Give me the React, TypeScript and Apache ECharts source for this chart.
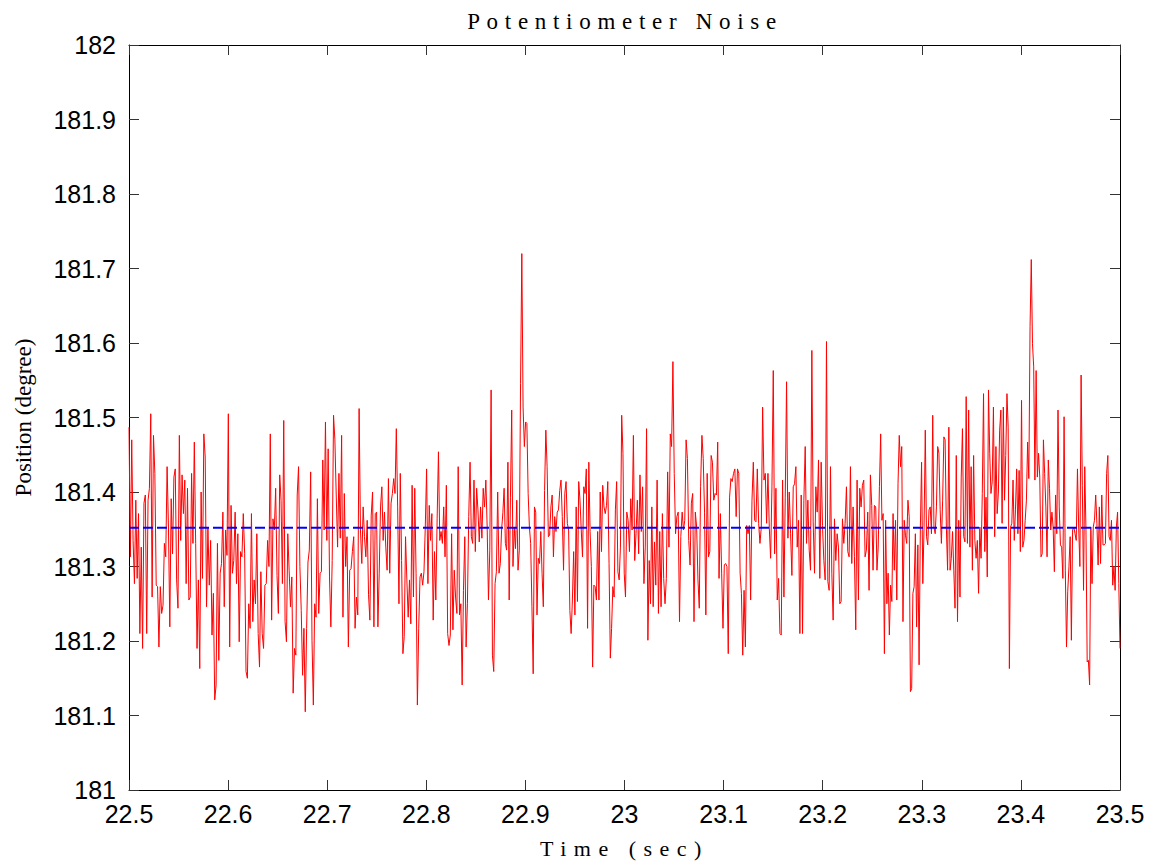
import React, { useEffect, useRef } from "react";
import * as echarts from "echarts";

// Time window boundaries (sec) of the eight consecutive data stretches
const segmentBounds = [22.5, 22.6222, 22.7485, 22.8747, 23.001, 23.1273, 23.2535, 23.3798, 23.5];

// Potentiometer position readings (degree), one stretch per time window
const seg1 = [181.487, 181.313, 181.470, 181.335, 181.277, 181.389, 181.284, 181.371, 181.210, 181.326, 181.190, 181.385, 181.396, 181.210, 181.389, 181.405, 181.505, 181.259, 181.476, 181.425, 181.275, 181.273, 181.192, 181.273, 181.237, 181.248, 181.331, 181.313, 181.434, 181.353, 181.219, 181.391, 181.317, 181.420, 181.431, 181.282, 181.244, 181.476, 181.335, 181.423, 181.371, 181.416, 181.277, 181.405, 181.255, 181.259, 181.425, 181.331, 181.467, 181.331, 181.190, 181.282, 181.163, 181.400, 181.284, 181.478, 181.447, 181.246, 181.353, 181.275, 181.335, 181.208, 181.264, 181.121, 181.141, 181.331, 181.174, 181.291, 181.304, 181.373, 181.246, 181.349, 181.315, 181.505, 181.192, 181.382, 181.291, 181.308, 181.373, 181.277, 181.344, 181.199, 181.320, 181.313, 181.371, 181.317, 181.159, 181.150, 181.250];
const seg2 = [181.217, 181.371, 181.226, 181.282, 181.250, 181.344, 181.210, 181.165, 181.293, 181.210, 181.190, 181.275, 181.277, 181.335, 181.300, 181.478, 181.228, 181.364, 181.349, 181.405, 181.288, 181.237, 181.423, 181.389, 181.277, 181.496, 181.226, 181.199, 181.344, 181.295, 181.246, 181.286, 181.130, 181.190, 181.181, 181.396, 181.434, 181.300, 181.241, 181.154, 181.217, 181.105, 181.217, 181.306, 181.322, 181.427, 181.201, 181.114, 181.250, 181.232, 181.391, 181.237, 181.291, 181.293, 181.443, 181.349, 181.494, 181.335, 181.458, 181.286, 181.219, 181.308, 181.503, 181.470, 181.396, 181.326, 181.425, 181.338, 181.476, 181.232, 181.398, 181.300, 181.340, 181.192, 181.295, 181.297, 181.320, 181.340, 181.217, 181.259, 181.235, 181.512, 181.349, 181.304, 181.380, 181.340, 181.313, 181.362, 181.262, 181.228, 181.369, 181.400, 181.219];
const seg3 = [181.371, 181.373, 181.219, 181.291, 181.380, 181.407, 181.335, 181.373, 181.326, 181.295, 181.418, 181.291, 181.385, 181.398, 181.418, 181.398, 181.485, 181.380, 181.250, 181.425, 181.308, 181.183, 181.206, 181.340, 181.282, 181.232, 181.282, 181.223, 181.409, 181.259, 181.405, 181.291, 181.114, 181.217, 181.286, 181.291, 181.275, 181.293, 181.353, 181.431, 181.277, 181.382, 181.335, 181.371, 181.228, 181.320, 181.255, 181.364, 181.454, 181.335, 181.347, 181.331, 181.380, 181.313, 181.409, 181.210, 181.194, 181.208, 181.344, 181.215, 181.295, 181.259, 181.237, 181.434, 181.235, 181.250, 181.141, 181.268, 181.340, 181.192, 181.250, 181.367, 181.440, 181.340, 181.331, 181.416, 181.320, 181.405, 181.376, 181.333, 181.380, 181.338, 181.405, 181.380, 181.416, 181.353, 181.255, 181.322, 181.537, 181.181, 181.159, 181.277, 181.293, 181.400, 181.291];
const seg4 = [181.304, 181.349, 181.372, 181.405, 181.331, 181.322, 181.440, 181.255, 181.393, 181.510, 181.300, 181.352, 181.324, 181.389, 181.295, 181.322, 181.546, 181.720, 181.514, 181.461, 181.494, 181.492, 181.398, 181.353, 181.331, 181.246, 181.156, 181.380, 181.373, 181.235, 181.311, 181.304, 181.347, 181.291, 181.246, 181.402, 181.483, 181.434, 181.340, 181.342, 181.380, 181.396, 181.313, 181.367, 181.347, 181.373, 181.376, 181.402, 181.416, 181.367, 181.295, 181.398, 181.414, 181.358, 181.349, 181.241, 181.210, 181.255, 181.320, 181.235, 181.380, 181.253, 181.414, 181.389, 181.349, 181.313, 181.407, 181.398, 181.431, 181.217, 181.440, 181.347, 181.300, 181.165, 181.275, 181.273, 181.255, 181.347, 181.255, 181.400, 181.320, 181.409, 181.380, 181.371, 181.382, 181.414, 181.304, 181.177, 181.217, 181.273, 181.259, 181.376, 181.414, 181.293, 181.282, 181.326, 181.503, 181.452, 181.291];
const seg5 = [181.259, 181.373, 181.362, 181.320, 181.391, 181.349, 181.476, 181.308, 181.344, 181.389, 181.317, 181.423, 181.347, 181.407, 181.277, 181.326, 181.485, 181.201, 181.308, 181.250, 181.380, 181.246, 181.333, 181.275, 181.416, 181.237, 181.347, 181.246, 181.371, 181.284, 181.250, 181.284, 181.427, 181.326, 181.478, 181.461, 181.575, 181.425, 181.344, 181.367, 181.373, 181.226, 181.340, 181.373, 181.349, 181.362, 181.470, 181.445, 181.335, 181.302, 181.385, 181.398, 181.226, 181.373, 181.353, 181.282, 181.244, 181.407, 181.476, 181.445, 181.373, 181.235, 181.425, 181.313, 181.320, 181.449, 181.440, 181.389, 181.398, 181.396, 181.467, 181.284, 181.371, 181.291, 181.217, 181.302, 181.304, 181.300, 181.183, 181.393, 181.418, 181.414, 181.425, 181.431, 181.367, 181.431, 181.425, 181.291, 181.264, 181.181, 181.268, 181.192, 181.355, 181.344, 181.355];
const seg6 = [181.255, 181.389, 181.440, 181.362, 181.360, 181.431, 181.358, 181.331, 181.353, 181.514, 181.416, 181.425, 181.358, 181.425, 181.353, 181.311, 181.407, 181.563, 181.317, 181.405, 181.255, 181.284, 181.210, 181.208, 181.416, 181.259, 181.393, 181.548, 181.338, 181.400, 181.344, 181.288, 181.407, 181.411, 181.434, 181.326, 181.362, 181.210, 181.396, 181.210, 181.389, 181.461, 181.331, 181.389, 181.322, 181.295, 181.590, 181.360, 181.291, 181.407, 181.373, 181.443, 181.284, 181.440, 181.355, 181.308, 181.282, 181.602, 181.280, 181.268, 181.434, 181.291, 181.228, 181.364, 181.308, 181.344, 181.326, 181.250, 181.253, 181.364, 181.331, 181.358, 181.407, 181.320, 181.313, 181.434, 181.304, 181.380, 181.313, 181.215, 181.416, 181.255, 181.405, 181.380, 181.409, 181.416, 181.313, 181.322, 181.373, 181.268, 181.423, 181.382, 181.295, 181.382];
const seg7 = [181.380, 181.295, 181.326, 181.407, 181.478, 181.362, 181.371, 181.183, 181.362, 181.250, 181.291, 181.208, 181.275, 181.253, 181.371, 181.295, 181.362, 181.255, 181.411, 181.476, 181.434, 181.461, 181.226, 181.362, 181.342, 181.331, 181.389, 181.367, 181.132, 181.136, 181.264, 181.273, 181.344, 181.219, 181.329, 181.168, 181.349, 181.440, 181.277, 181.353, 181.483, 181.340, 181.329, 181.376, 181.380, 181.344, 181.503, 181.353, 181.344, 181.380, 181.461, 181.452, 181.376, 181.331, 181.389, 181.474, 181.470, 181.353, 181.295, 181.487, 181.295, 181.311, 181.347, 181.295, 181.244, 181.449, 181.226, 181.362, 181.259, 181.420, 181.485, 181.340, 181.333, 181.528, 181.331, 181.510, 181.326, 181.434, 181.295, 181.449, 181.335, 181.311, 181.335, 181.264, 181.353, 181.311, 181.398, 181.532, 181.320, 181.393, 181.286, 181.537, 181.452, 181.398, 181.414, 181.514, 181.340, 181.461, 181.371, 181.400, 181.483];
const seg8 = [181.510, 181.358, 181.514, 181.389, 181.449, 181.532, 181.487, 181.163, 181.353, 181.358, 181.416, 181.335, 181.376, 181.431, 181.344, 181.429, 181.320, 181.523, 181.326, 181.335, 181.362, 181.389, 181.467, 181.418, 181.622, 181.712, 181.599, 181.568, 181.416, 181.563, 181.420, 181.452, 181.420, 181.313, 181.317, 181.470, 181.425, 181.380, 181.313, 181.443, 181.405, 181.349, 181.373, 181.353, 181.293, 181.396, 181.344, 181.510, 181.380, 181.329, 181.326, 181.284, 181.501, 181.295, 181.192, 181.266, 181.300, 181.340, 181.201, 181.349, 181.353, 181.344, 181.335, 181.431, 181.353, 181.300, 181.557, 181.409, 181.268, 181.434, 181.349, 181.172, 181.174, 181.141, 181.353, 181.277, 181.353, 181.362, 181.396, 181.358, 181.302, 181.380, 181.304, 181.396, 181.329, 181.329, 181.331, 181.425, 181.449, 181.340, 181.335, 181.362, 181.275, 181.300, 181.268, 181.353, 181.373, 181.277, 181.190];

const segments = [seg1, seg2, seg3, seg4, seg5, seg6, seg7, seg8];

const meanPosition = 181.352;
const xMin = 22.5;
const xMax = 23.5;
const xStep = 0.1;
const yMin = 181;
const yMax = 182;
const yStep = 0.1;

const titleText = "Potentiometer Noise";
const xName = "Time (sec)";
const yName = "Position (degree)";

function buildNoise(): [number, number][] {
  const pts: [number, number][] = [];
  segments.forEach((seg, k) => {
    const t0 = segmentBounds[k];
    const t1 = segmentBounds[k + 1];
    const last = k === segments.length - 1;
    const n = last ? seg.length - 1 : seg.length;
    seg.forEach((v, j) => pts.push([t0 + ((t1 - t0) * j) / n, v]));
  });
  return pts;
}

const fmt = (v: number) => String(+Number(v).toFixed(1));

export default function App() {
  const ref = useRef<HTMLDivElement>(null);

  useEffect(() => {
    document.body.style.margin = "0";
    const el = ref.current!;
    const chart = echarts.init(el, undefined, { renderer: "svg" });

    const tickStyle = { color: "#333", width: 1 };
    const lineStyle = { color: "#000", width: 1 };
    const labelFont = { color: "#000", fontSize: 25, fontFamily: "Liberation Sans, Arial, sans-serif" };

    const option: any = {
      animation: false,
      backgroundColor: "#fff",
      graphic: [
        {
          type: "text",
          x: 625,
          y: 21,
          style: {
            text: titleText,
            font: "23px 'Liberation Serif', 'Times New Roman', serif",
            fill: "#000",
            align: "center",
            verticalAlign: "middle",
            textAlign: "center",
            textVerticalAlign: "middle",
          },
        },
      ],
      grid: { left: 129, right: 33, top: 45, bottom: 75, containLabel: false },
      xAxis: [
        {
          type: "value",
          position: "bottom",
          min: xMin,
          max: xMax,
          interval: xStep,
          name: xName,
          nameLocation: "middle",
          nameGap: 47,
          nameTextStyle: { color: "#000", fontSize: 22, fontFamily: "Liberation Serif, Times New Roman, serif" },
          axisLine: { show: true, onZero: false, lineStyle },
          axisTick: { show: true, inside: true, length: 10, lineStyle: tickStyle },
          axisLabel: { ...labelFont, margin: 11, formatter: fmt },
          splitLine: { show: false },
        },
        {
          type: "value",
          position: "top",
          min: xMin,
          max: xMax,
          interval: xStep,
          axisLine: { show: true, onZero: false, lineStyle },
          axisTick: { show: true, inside: true, length: 10, lineStyle: tickStyle },
          axisLabel: { show: false },
          splitLine: { show: false },
        },
      ],
      yAxis: [
        {
          type: "value",
          position: "left",
          min: yMin,
          max: yMax,
          interval: yStep,
          name: yName,
          nameLocation: "middle",
          nameGap: 94,
          nameTextStyle: { color: "#000", fontSize: 23, fontFamily: "Liberation Serif, Times New Roman, serif" },
          axisLine: { show: true, onZero: false, lineStyle },
          axisTick: { show: true, inside: true, length: 10, lineStyle: tickStyle },
          axisLabel: { ...labelFont, margin: 13, formatter: fmt },
          splitLine: { show: false },
        },
        {
          type: "value",
          position: "right",
          min: yMin,
          max: yMax,
          interval: yStep,
          axisLine: { show: true, onZero: false, lineStyle },
          axisTick: { show: true, inside: true, length: 10, lineStyle: tickStyle },
          axisLabel: { show: false },
          splitLine: { show: false },
        },
      ],
      series: [
        {
          type: "line",
          name: "Position",
          data: buildNoise(),
          showSymbol: false,
          symbol: "none",
          lineStyle: { color: "#ff0000", width: 1 },
          z: 2,
        },
        {
          type: "line",
          name: "Mean",
          data: [
            [xMin, meanPosition],
            [xMax, meanPosition],
          ],
          showSymbol: false,
          symbol: "none",
          lineStyle: { color: "#0000ff", width: 2, type: [10, 4] },
          z: 3,
        },
      ],
    };

    const applySpacing = () => {
      el.querySelectorAll("text").forEach((t) => {
        const s = t.textContent;
        if (s === titleText) (t as SVGTextElement).style.letterSpacing = "6.7px";
        else if (s === xName) (t as SVGTextElement).style.letterSpacing = "7.5px";
      });
    };
    chart.on("finished", applySpacing);
    chart.setOption(option);
    applySpacing();

    return () => {
      chart.dispose();
    };
  }, []);

  return <div ref={ref} style={{ width: 1153, height: 865 }} />;
}
